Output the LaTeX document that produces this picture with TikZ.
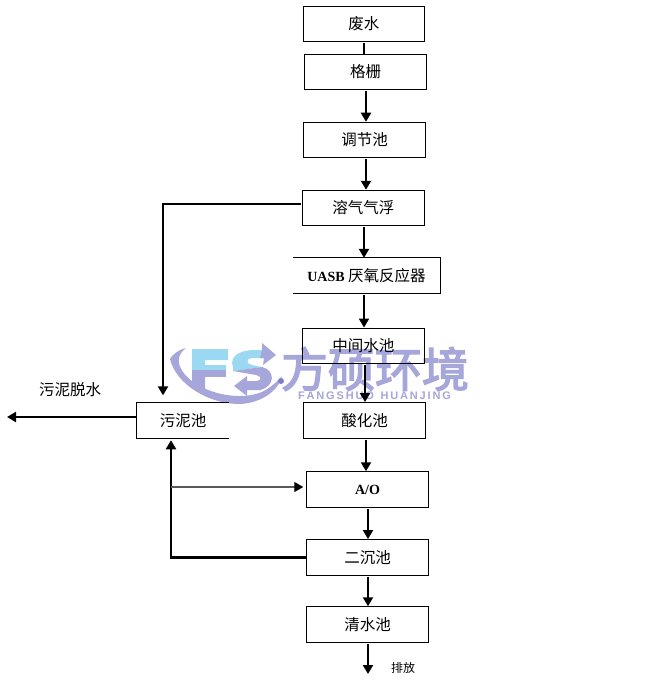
\documentclass[tikz,border=0pt]{standalone}
\usepackage{fontspec}
\setmainfont{Liberation Serif}
\newfontfamily\cjk{Noto Sans CJK SC}
\newfontfamily\cjkheavy{Noto Sans CJK SC}[FakeBold=3]
\newfontfamily\ltn{Liberation Serif}
\newfontfamily\wmlatin{Liberation Sans}
\usetikzlibrary{arrows.meta}
\definecolor{wmviolet}{HTML}{A6A6DB}
\definecolor{wmblue}{HTML}{9BD8F2}
\definecolor{wmdark}{HTML}{7C7CCB}
\newcommand{\latinb}[1]{{\ltn\bfseries\fontsize{14}{16}\selectfont #1}}
\tikzset{
  flowbox/.style={draw=black,line width=1pt,minimum width=121.5pt,minimum height=35.5pt,inner sep=0pt,font=\cjk\fontsize{15.5}{17}\selectfont},
  openbox/.style={minimum height=35.5pt,inner sep=0pt,font=\cjk\fontsize{15.5}{17}\selectfont},
  flowlab/.style={inner sep=0pt,font=\cjk\fontsize{15.5}{17}\selectfont},
  smalllab/.style={inner sep=0pt,font=\cjk\fontsize{12}{14}\selectfont},
  flow/.style={line width=2pt,-{Triangle[length=9pt,width=10pt]}},
  plain/.style={line width=2pt},
  heavy flow/.style={line width=2.4pt,-{Triangle[length=9pt,width=10pt]}},
  light flow/.style={line width=1.2pt,draw=black!65,-{Triangle[length=9pt,width=10pt,color=black,fill=black]}},
}
\begin{document}
\begin{tikzpicture}[x=1pt,y=-1pt]
\useasboundingbox (0,0) rectangle (650,687);
\fill[white] (0,0) rectangle (650,687);
% watermark
\fill[wmviolet] (170,359) .. controls (172,355) and (178,350) .. (186,348) .. controls (178,354) and (176,362) .. (183,372) .. controls (195,390) and (235,403) .. (262,392) .. controls (270,388) and (277,382) .. (282,376) .. controls (279,390) and (262,403) .. (240,404) .. controls (208,404) and (176,384) .. (170,359) -- cycle;
\fill[wmdark] (281,381) circle (3);
\fill[wmblue] (192,349) -- (228,349) -- (228,360) -- (205,360) -- (205,365) -- (226,365) -- (226,370) -- (192,370) -- cycle;
\fill[wmviolet] (192,370) -- (205,370) -- (205,395) -- (192,387) -- cycle;
\fill[wmviolet] (205,370) -- (226,370) -- (226,377) -- (205,377) -- cycle;
\fill[wmblue] (233,367) .. controls (229,356) and (240,350) .. (255,350) -- (264,350) -- (268,358) -- (252,358) .. controls (246,358) and (246,364) .. (252,365) -- (262,367) -- (233,371) -- cycle;
\fill[wmviolet] (262,343) -- (276,355) -- (263,365) -- (264,358) -- (260,358) -- (262,350) -- cycle;
\fill[wmviolet] (233,371) -- (262,367) .. controls (275,370) and (276,386) .. (260,390) -- (247,390) -- (247,396) -- (234,386) -- (247,376) -- (247,381) -- (256,381) .. controls (262,381) and (262,376) .. (256,375) -- cycle;
\node[inner sep=0pt,text=wmviolet,font=\cjkheavy\fontsize{47}{49}\selectfont] (wmcn) at (375,369) {方硕环境};
\node[inner sep=0pt,text=wmviolet,font=\wmlatin\bfseries\fontsize{11}{12}\selectfont] (wmen) at (374.5,395.5) {F\,A\,N\,G\,S\,H\,U\,O\,\ \,H\,U\,A\,N\,J\,I\,N\,G};
% boxes
\node[flowbox] (a) at (363.75,24) {废水};
\node[flowbox] (b) at (365.5,72) {格栅};
\node[flowbox] (c) at (364.5,140) {调节池};
\node[flowbox] (d) at (363.25,208) {溶气气浮};
\node[openbox,minimum width=147pt] (e) at (366.5,275.8) {\latinb{UASB} 厌氧反应器};
\draw[line width=1pt] (e.north west) -- (e.north east) -- (e.south east) -- (e.south west);
\node[flowbox] (f) at (363.25,345.8) {中间水池};
\node[flowbox] (g) at (364.5,420.3) {酸化池};
\node[flowbox] (h) at (367.5,489.5) {\latinb{A/O}};
\node[flowbox] (i) at (367.5,557.3) {二沉池};
\node[flowbox] (j) at (367.5,624.5) {清水池};
\node[openbox,minimum width=92pt] (s) at (183,420.3) {污泥池};
\draw[line width=1pt] (s.north east) -- (s.north west) -- (s.south west) -- (s.south east);
% labels
\node[flowlab] (l1) at (70,390) {污泥脱水};
\node[smalllab] (l2) at (403,668) {排放};
\coordinate (out1) at (7,417);
\coordinate (out2) at (368,674);
\coordinate (k1) at (163,204);
\coordinate (k3) at (171,487);
% connectors
\draw[plain] ([xshift=.25pt,yshift=-1pt]a.south) -- ([xshift=.25pt]a.south |- b.north);
\draw[flow] ([xshift=0.5pt,yshift=-1pt]b.south) -- ([xshift=1.5pt]c.north);
\draw[flow] ([xshift=1.5pt,yshift=-1pt]c.south) -- ([xshift=2.75pt]d.north);
\draw[flow] ([xshift=0.75pt,yshift=-1pt]d.south) -- ([xshift=-2.5pt]e.north);
\draw[flow] ([xshift=-2.5pt,yshift=-1pt]e.south) -- ([xshift=.75pt]f.north);
\draw[flow] ([xshift=1.75pt,yshift=-1pt]f.south) -- ([xshift=.5pt]g.north);
\draw[flow] ([xshift=1.5pt,yshift=-1pt]g.south) -- ([xshift=-1.5pt]h.north);
\draw[flow] ([xshift=.5pt,yshift=-1pt]h.south) -- ([xshift=.5pt]i.north);
\draw[flow] ([xshift=.5pt,yshift=-1pt]i.south) -- ([xshift=.5pt]j.north);
\draw[flow] ([xshift=.5pt,yshift=-1pt]j.south) -- (out2);
\draw[flow] ([xshift=-1.5pt]d.west |- k1) -- (k1) -- ([xshift=-20pt,yshift=7pt]s.north);
\draw[flow] (s.west |- out1) -- (out1);
\draw[heavy flow] (i.west) -- (i.west -| k3) -- ([xshift=-12pt,yshift=-2pt]s.south);
\draw[light flow] (k3) -- ([xshift=-3pt]k3 -| h.west);
\end{tikzpicture}
\end{document}
